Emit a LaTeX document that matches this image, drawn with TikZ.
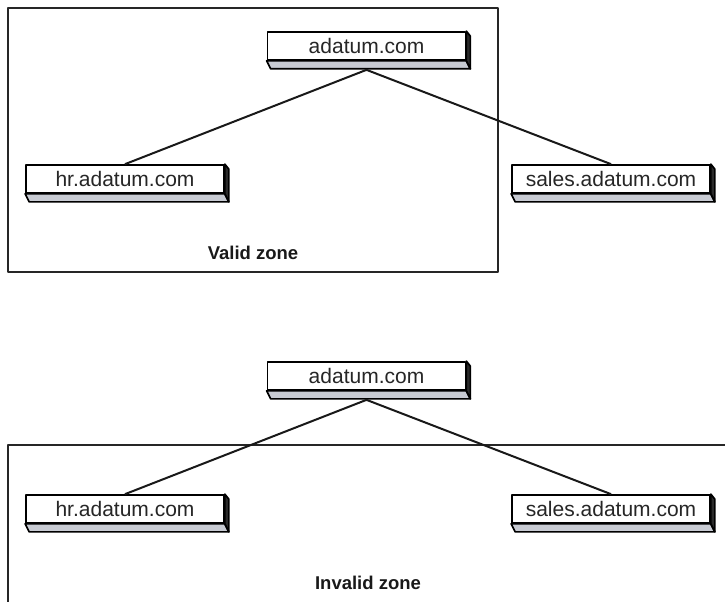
\documentclass[tikz,border=0pt]{standalone}
\usepackage{fontspec}
\setmainfont{Liberation Sans}
\definecolor{facegray}{HTML}{C8CBD3}
\definecolor{sidedark}{HTML}{2A2A2A}

\begin{document}
\begin{tikzpicture}[x=1pt,y=-1pt,line join=round,
    domainbox/.style={draw,line width=1.7pt,fill=white,minimum width=198pt,
        minimum height=28pt,inner sep=0pt,text=black!85,
        font=\fontsize{21}{24}\selectfont},
    zone/.style={line width=2.2pt,black!85},
    zonelabel/.style={text=black!90,font=\bfseries\fontsize{18.5}{22}\selectfont},
    link/.style={line width=2pt,black!90}]
    \useasboundingbox (0,0) rectangle (725,602);

    % Zones
    \draw[zone] (8,8) rectangle (498,272);
    \draw[zone] (725,445) -- (8,445) -- (8,602);
    \node[zonelabel] (validlbl) at (253,253) {Valid zone};
    \node[zonelabel] (invalidlbl) at (368,583) {Invalid zone};

    % Upper tree
    \node[domainbox] (top1) at (366.5,46) {adatum.com};
    \node[domainbox] (hr1) at (125,179) {hr.adatum.com};
    \node[domainbox] (sales1) at (611,179) {sales.adatum.com};

    % Lower tree
    \node[domainbox] (top2) at (366.5,376) {adatum.com};
    \node[domainbox] (hr2) at (125,509) {hr.adatum.com};
    \node[domainbox] (sales2) at (611,509) {sales.adatum.com};

    % Box depth
    \foreach \n in {top1,hr1,sales1,top2,hr2,sales2} {
        \filldraw[fill=facegray,line width=1.7pt] (\n.south west) -- (\n.south east)
            -- ++(4,8) -- ([shift={(4,8)}]\n.south west) -- cycle;
        \filldraw[fill=sidedark,line width=1.7pt] (\n.north east) -- ++(4,5)
            -- ([shift={(4,8)}]\n.south east) -- (\n.south east) -- cycle;
    }

    % Links
    \draw[link] (hr1.north) -- ([yshift=-9pt]top1.south) -- (sales1.north);
    \draw[link] (hr2.north) -- ([yshift=-9pt]top2.south) -- (sales2.north);
\end{tikzpicture}
\end{document}
